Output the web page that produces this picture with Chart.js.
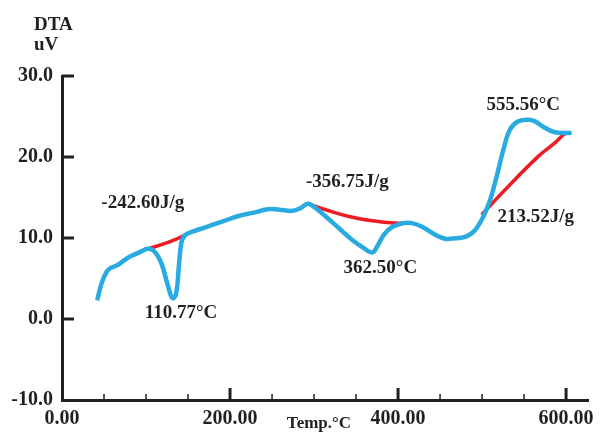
<!DOCTYPE html>
<html>
<head>
<meta charset="utf-8">
<script src="https://cdn.jsdelivr.net/npm/chart.js"></script>
<style>
  html, body { margin: 0; padding: 0; background: #fff; }
  #wrap { width: 601px; height: 436px; }
</style>
</head>
<body>
<div id="wrap"><canvas id="dta" width="601" height="436"></canvas></div>
<script>
// DTA curve (temperature in C, signal in uV)
const tempC = [41.9, 47.1, 53.0, 58.1, 66.8, 74.7, 82.7, 92.5, 102.4, 110.3, 118.2, 124.2, 129.3, 132.0, 136.0, 139.1, 142.0, 145.9, 155.7, 171.6, 191.3, 211.1, 226.9, 244.7, 258.5, 274.3, 284.3, 292.1, 298.0, 313.9, 329.7, 345.5, 359.3, 369.2, 375.1, 383.0, 392.9, 406.8, 416.6, 428.5, 444.4, 456.2, 464.0, 479.9, 491.8, 501.7, 509.6, 517.4, 525.4, 533.3, 543.2, 555.0, 563.0, 574.8, 586.7, 598.5, 606.3];
const dtaUV = [2.3, 4.4, 5.8, 6.3, 6.7, 7.3, 7.8, 8.25, 8.66, 8.3, 6.9, 4.8, 3.0, 2.55, 3.2, 6.5, 9.35, 10.3, 10.8, 11.35, 12.05, 12.75, 13.1, 13.55, 13.5, 13.35, 13.7, 14.23, 14.0, 12.65, 11.2, 9.75, 8.75, 8.2, 8.95, 10.4, 11.35, 11.84, 11.84, 11.4, 10.4, 9.9, 9.95, 10.15, 11.0, 12.7, 14.7, 17.6, 20.9, 23.4, 24.4, 24.6, 24.4, 23.6, 23.05, 22.95, 22.98];

// baselines used for peak integration
const base1Temp = [102.4, 124.6, 145.9];
const base1DTA = [8.66, 9.4, 10.31];
const base2Temp = [292.1, 313.9, 341.5, 369.2, 396.9, 406.8];
const base2DTA = [14.23, 13.49, 12.66, 12.12, 11.84, 11.84];
const base3Temp = [499.6, 527.4, 566.9, 586.7, 598.5, 606.3];
const base3DTA = [12.87, 15.96, 20.08, 21.74, 22.86, 22.98];

// axis ticks
const xTickValues = [0, 200, 400, 600];
const xMinorTicks = [50, 100, 150, 250, 300, 350, 450, 500, 550];
const yTickValues = [-10, 0, 10, 20, 30];

// peak annotations
const noteText = ["-242.60J/g", "110.77°C", "-356.75J/g", "362.50°C", "555.56°C", "213.52J/g"];
const noteTemp = [96.1, 141.7, 339.7, 378.9, 549.0, 563.9];
const noteDTA = [14.3, 0.74, 16.9, 6.29, 26.4, 12.58];

const toPoints = (xs, ys) => xs.map((v, i) => ({ x: v, y: ys[i] }));

const FONT = '"Liberation Serif", "DejaVu Serif", serif';
const INK = "#231f20";

const decorations = {
  id: "decorations",
  afterDraw(chart) {
    const { ctx, scales: { x, y } } = chart;
    const seg = (x1, y1, x2, y2) => {
      ctx.beginPath();
      ctx.moveTo(x1, y1);
      ctx.lineTo(x2, y2);
      ctx.stroke();
    };
    ctx.save();
    ctx.strokeStyle = INK;

    // inward ticks
    ctx.lineWidth = 3;
    xTickValues.slice(1).forEach((v) => {
      const px = x.getPixelForValue(v);
      seg(px, y.bottom, px, y.bottom - 12);
    });
    yTickValues.slice(1).forEach((v) => {
      const py = y.getPixelForValue(v);
      seg(x.left, py, x.left + 12, py);
    });
    ctx.lineWidth = 1.5;
    xMinorTicks.forEach((v) => {
      const px = x.getPixelForValue(v);
      seg(px, y.bottom, px, y.bottom - 6);
    });

    // annotations
    ctx.fillStyle = INK;
    ctx.font = "bold 19px " + FONT;
    ctx.textAlign = "center";
    ctx.textBaseline = "middle";
    noteText.forEach((t, i) => {
      ctx.fillText(t, x.getPixelForValue(noteTemp[i]), y.getPixelForValue(noteDTA[i]));
    });

    // axis titles
    ctx.textAlign = "left";
    ctx.fillText("DTA", 34, 25);
    ctx.fillText("uV", 34, 45);
    ctx.font = "bold 17px " + FONT;
    ctx.textAlign = "center";
    ctx.fillText("Temp.°C", 319, 424);
    ctx.restore();
  },
};

const lineStyle = (color, width) => ({
  borderColor: color,
  borderWidth: width,
  tension: 0.4,
  pointRadius: 0,
});

new Chart(document.getElementById("dta"), {
  type: "line",
  data: {
    datasets: [
      { data: toPoints(tempC, dtaUV), ...lineStyle("#29abe2", 4.5), order: 0 },
      { data: toPoints(base1Temp, base1DTA), ...lineStyle("#ed1c24", 3.5), order: 1 },
      { data: toPoints(base2Temp, base2DTA), ...lineStyle("#ed1c24", 3.5), order: 1 },
      { data: toPoints(base3Temp, base3DTA), ...lineStyle("#ed1c24", 3.5), order: 1 },
    ],
  },
  options: {
    responsive: false,
    animation: false,
    layout: { padding: { top: 76, right: 10, left: 0, bottom: 0 } },
    plugins: { legend: { display: false }, tooltip: { enabled: false } },
    scales: {
      x: {
        type: "linear",
        min: 0,
        max: 627,
        afterBuildTicks: (s) => { s.ticks = xTickValues.map((v) => ({ value: v })); },
        afterFit: (s) => { s.height = 36; },
        grid: { display: false, drawTicks: false },
        border: { display: true, color: INK, width: 3 },
        ticks: {
          padding: 7,
          color: INK,
          font: { family: FONT, size: 20, weight: "bold" },
          maxRotation: 0,
          callback: (v) => Number(v).toFixed(2),
        },
      },
      y: {
        type: "linear",
        min: -10,
        max: 30,
        afterBuildTicks: (s) => { s.ticks = yTickValues.map((v) => ({ value: v })); },
        afterFit: (s) => { s.width = 62; },
        grid: { display: false, drawTicks: false },
        border: { display: true, color: INK, width: 3 },
        ticks: {
          padding: 9,
          color: INK,
          font: { family: FONT, size: 20, weight: "bold" },
          callback: (v) => Number(v).toFixed(1),
        },
      },
    },
  },
  plugins: [decorations],
});
</script>
</body>
</html>
